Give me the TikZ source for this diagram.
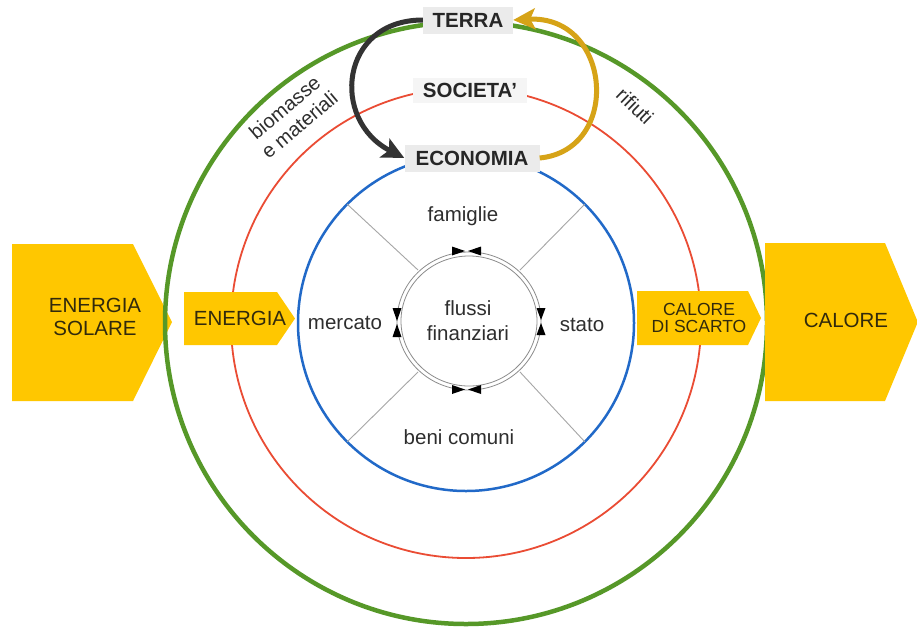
\documentclass[tikz,border=0pt]{standalone}
\usepackage{fontspec}
\setmainfont{Liberation Sans}
\usetikzlibrary{arrows.meta,calc}
\definecolor{cgreen}{RGB}{86,152,40}
\definecolor{cred}{RGB}{234,76,52}
\definecolor{cblue}{RGB}{33,105,200}
\definecolor{cgold}{RGB}{214,163,23}
\definecolor{cdark}{RGB}{51,51,51}
\definecolor{cyellow}{RGB}{255,199,0}
\definecolor{ctext}{RGB}{50,42,12}
\tikzset{
  ring/.style={circle, inner sep=0pt, outer sep=0pt},
  lab/.style={font=\fontsize{20.5}{24}\selectfont\bfseries, text=black!85, inner sep=0pt, minimum height=27pt},
  txt/.style={font=\fontsize{20.5}{25}\selectfont, text=black!82, inner sep=0pt, align=center},
  ytxt/.style={font=\fontsize{20.5}{23}\selectfont, text=ctext, inner sep=0pt, align=center},
  yshape/.style={fill=cyellow},
  spoke/.style={draw=black!35, line width=0.9pt},
  inarc/.style={draw=black!45, line width=0.8pt},
  bow/.style={fill=black},
  flow/.style={line width=5pt, -{Stealth[length=22pt,width=21pt,inset=5pt]}},
}
\begin{document}
\begin{tikzpicture}[x=1pt,y=-1pt]
\useasboundingbox (0,0) rectangle (917,627);
\fill[white] (0,0) rectangle (917,627);

% big yellow left arrow (behind green ring)
\fill[yshape] (12,244) -- (133,244) -- (172,322) -- (133,401) -- (12,401) -- cycle;
\node[ytxt] (solare) at (95,317) {ENERGIA\\SOLARE};

% rings
\coordinate (O) at (466,323);
\node[ring, draw=cgreen, line width=4.5pt, minimum size=602pt] (terraC) at (O) {};
\node[ring, draw=cred, line width=1.8pt, minimum size=470pt] (socC) at (O) {};
\node[ring, draw=cblue, line width=2.5pt, minimum size=336pt] (ecoC) at (O) {};

% inner financial flows
\coordinate (I) at (469,321);
\foreach \a in {45,135,225,315}{
  \draw[spoke] ($(O)+(\a:168pt)$) -- ($(I)+(\a:72pt)$);
}
\draw[inarc] (I) ellipse [x radius=72pt, y radius=69pt];
\draw[inarc] (I) ellipse [x radius=68pt, y radius=65pt];
% bowties
\fill[bow] (452,246.5) -- (452,255.5) -- (465,251) -- cycle;
\fill[bow] (481,246.5) -- (481,255.5) -- (468,251) -- cycle;
\fill[bow] (452,385) -- (452,394) -- (465,389.5) -- cycle;
\fill[bow] (481,385) -- (481,394) -- (468,389.5) -- cycle;
\fill[bow] (392.5,308) -- (401.5,308) -- (397,321) -- cycle;
\fill[bow] (392.5,337) -- (401.5,337) -- (397,324) -- cycle;
\fill[bow] (536.5,308) -- (545.5,308) -- (541,320) -- cycle;
\fill[bow] (536.5,335) -- (545.5,335) -- (541,323) -- cycle;

\node[txt] (fam) at (463,216) {famiglie};
\node[txt] (merc) at (345,323) {mercato};
\node[txt] (stato) at (582,325) {stato};
\node[txt] (beni) at (459,437) {beni comuni};
\node[txt] (fin) at (468,321) {flussi\\finanziari};

% ring labels
\node[lab, fill=black!8, minimum width=90pt] (terra) at (468,20) {TERRA};
\node[lab, fill=black!4, minimum width=114pt, minimum height=25pt] (soc) at (470,90) {SOCIETA'};
\node[lab, fill=black!8, minimum width=135pt] (eco) at (472,158) {ECONOMIA};

% material flows
\draw[flow, draw=cdark] (terra.west) .. controls (340,20) and (330,120) .. (eco.west);
\draw[flow, draw=cgold] (eco.east) .. controls (622,150) and (612,15) .. (terra.east);
\node[txt, rotate=40, font=\fontsize{20}{23}\selectfont] (bio) at (292,116) {biomasse\\e materiali};
\node[txt, rotate=-44, font=\fontsize{20}{23}\selectfont] (rif) at (635,106) {rifiuti};

% other yellow arrows
\fill[yshape] (184,292) -- (277,292) -- (295,318.5) -- (277,345) -- (184,345) -- cycle;
\node[ytxt] (energia) at (240,318) {ENERGIA};
\fill[yshape] (637,291) -- (748,291) -- (761,318) -- (748,345) -- (637,345) -- cycle;
\node[ytxt, font=\fontsize{17.5}{17}\selectfont] (scarto) at (699,318) {CALORE\\DI SCARTO};
\fill[yshape] (765,243) -- (885,243) -- (917,320) -- (917,324) -- (885,401) -- (765,401) -- cycle;
\node[ytxt] (calore) at (846,320) {CALORE};
\end{tikzpicture}
\end{document}
